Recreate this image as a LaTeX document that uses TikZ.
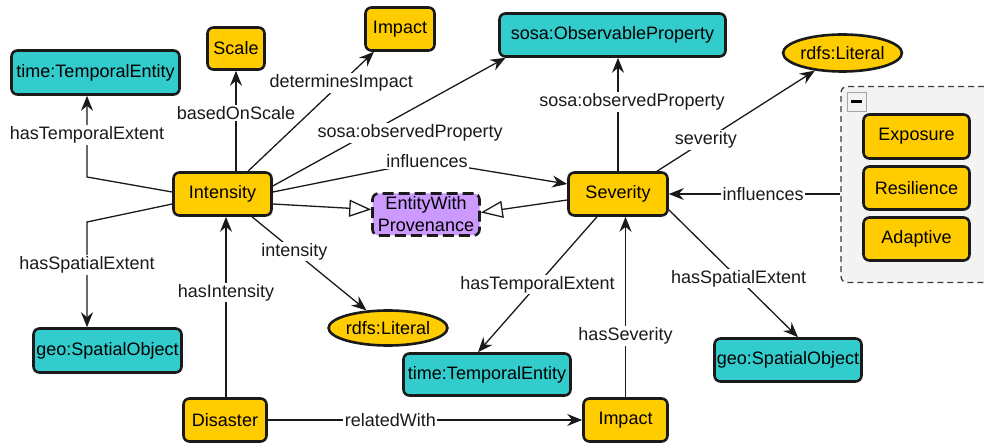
\documentclass[tikz,border=0pt]{standalone}
\usepackage{fontspec}
\setmainfont{Liberation Sans}
\usetikzlibrary{arrows.meta,shapes.geometric}
\definecolor{clsfill}{HTML}{FFCC00}
\definecolor{extfill}{HTML}{33CCCC}
\definecolor{provfill}{HTML}{CC99FF}
\definecolor{grpfill}{HTML}{F3F3F3}
\definecolor{ink}{HTML}{1A1A1A}

\begin{document}
\begin{tikzpicture}[x=1pt,y=-1pt,
  font=\fontsize{18}{21}\selectfont,
  boxbase/.style={draw=ink, line width=2.6pt, rounded corners=6pt, inner sep=0pt, align=center},
  clsbox/.style={boxbase, fill=clsfill, minimum height=43pt},
  extbox/.style={boxbase, fill=extfill, minimum height=43pt},
  litbox/.style={ellipse, draw=ink, line width=2.6pt, fill=clsfill, inner sep=0pt},
  provbox/.style={boxbase, fill=provfill, dash pattern=on 11pt off 5pt},
  rel/.style={line width=1.3pt, draw=ink, -{Stealth[length=15pt,width=12pt,inset=5pt]}},
  sub/.style={line width=1.3pt, draw=ink, -{Triangle[open,length=22pt,width=17pt,fill=white]}},
  lbl/.style={fill=white, inner sep=1.5pt, text=ink},
]
\useasboundingbox (0,0) rectangle (984,443);

% collapsible group of influencing factors
\begin{scope}
  \clip (0,0) rectangle (984,443);
  \node[draw=ink!85, fill=grpfill, line width=1.3pt, dash pattern=on 6pt off 4pt,
        rounded corners=6pt, minimum width=159pt, minimum height=196pt, inner sep=0pt]
        (grp) at (920.5,184.5) {};
\end{scope}
\node[draw=gray!70, fill=gray!10, line width=1pt, minimum size=19pt, inner sep=0pt]
      (btn) at (856.5,102) {\rule{11pt}{3pt}};
\node[clsbox, minimum width=106pt, minimum height=44pt] (expo) at (916.5,136.5) {Exposure};
\node[clsbox, minimum width=106pt] (resil) at (916.5,188) {Resilience};
\node[clsbox, minimum width=106pt] (adapt) at (916.5,239) {Adaptive};

% classes
\node[extbox, minimum width=168pt, minimum height=44pt] (tteA) at (95.5,72.5) {time:TemporalEntity};
\node[clsbox, minimum width=57pt, minimum height=42pt] (scale) at (236,48.5) {Scale};
\node[clsbox, minimum width=69pt] (impT) at (400,29) {Impact};
\node[clsbox, minimum width=98pt] (inten) at (222.5,194) {Intensity};
\node[provbox, minimum width=107pt, minimum height=42pt, font=\fontsize{18}{22}\selectfont]
      (ewp) at (426,214.5) {EntityWith\\Provenance};
\node[extbox, minimum width=226pt] (obs) at (612.5,35) {sosa:ObservableProperty};
\node[litbox, minimum width=106pt, minimum height=37pt] (litT) at (842.5,53) {rdfs:Literal};
\node[clsbox, minimum width=99pt] (sev) at (618,194) {Severity};
\node[extbox, minimum width=148pt, minimum height=44pt] (geoL) at (107.5,350.5) {geo:SpatialObject};
\node[litbox, minimum width=107pt, minimum height=35pt] (litB) at (388,328) {rdfs:Literal};
\node[extbox, minimum width=167pt, minimum height=42pt] (tteB) at (487,374.5) {time:TemporalEntity};
\node[clsbox, minimum width=83pt] (dis) at (225,420) {Disaster};
\node[clsbox, minimum width=84pt] (impB) at (625.5,420) {Impact};
\node[extbox, minimum width=147pt] (geoR) at (788,360) {geo:SpatialObject};

% bend points
\coordinate (bTL) at (87,177);
\coordinate (bBL) at (87,222);
\coordinate (bInf) at (427,161);

% relations of Intensity
\draw[rel] ([yshift=2pt]inten.west) -- (bTL)
  -- node[lbl,pos=0.52]{hasTemporalExtent} (bTL |- tteA.south);
\draw[rel] ([yshift=-10pt]inten.west) -- (bBL)
  -- node[lbl,pos=0.41]{hasSpatialExtent} (bBL |- geoL.north);
\draw[rel] (scale |- inten.north) -- node[lbl,pos=0.58]{basedOnScale} (scale.south);
\draw[rel] ([xshift=25.5pt]inten.north) -- node[lbl,pos=0.74]{determinesImpact} ([xshift=-26pt]impT.south);
\draw[rel] ([yshift=8pt]inten.east) -- node[lbl,pos=0.5,xshift=21pt,yshift=-11pt]{sosa:observedProperty}
  ([xshift=-107pt]obs.south);
\draw[rel] ([yshift=2pt]inten.east) -- (bInf) node[lbl]{influences} -- ([yshift=10pt]sev.west);
\draw[rel] ([xshift=29.5pt]inten.south) -- node[lbl,pos=0.37]{intensity} (litB);

% subclass links
\draw[sub] ([yshift=-10pt]inten.east) -- ([yshift=5pt]ewp.west);
\draw[sub] ([yshift=-6pt]sev.west) -- ([yshift=2pt]ewp.east);

% Disaster and Impact
\draw[rel] ([xshift=1pt]dis.north) -- node[lbl,pos=0.58]{hasIntensity} ([xshift=1pt]dis.north |- inten.south);
\draw[rel] (dis) -- node[lbl,pos=0.39]{relatedWith} (impB);
\draw[rel] (impB.north) -- node[lbl,pos=0.34]{hasSeverity} (impB.north |- sev.south);

% relations of Severity
\draw[rel] (sev.north) -- node[lbl,pos=0.61,xshift=14pt]{sosa:observedProperty} (sev.north |- obs.south);
\draw[rel] ([xshift=39pt]sev.north) -- node[lbl,pos=0.31]{severity} (litT);
\draw[rel] (grp.west |- sev) -- node[lbl,pos=0.45]{influences} (sev.east);
\draw[rel] ([xshift=-21pt]sev.south) -- node[lbl,pos=0.5]{hasTemporalExtent} ([xshift=-9pt]tteB.north);
\draw[rel] ([yshift=7pt]sev.south east) -- node[lbl,pos=0.54]{hasSpatialExtent} ([xshift=10pt]geoR.north);
\end{tikzpicture}
\end{document}
